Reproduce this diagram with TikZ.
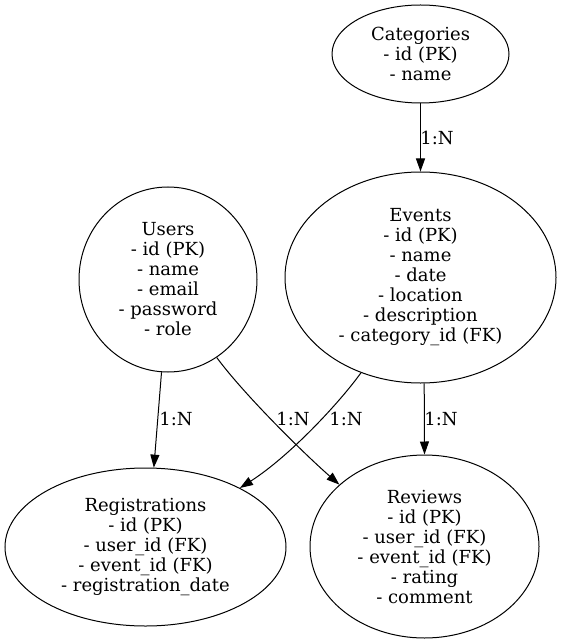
\documentclass[tikz,border=0pt]{standalone}
\usepackage{fontspec}
\setmainfont{DejaVu Serif}
\usetikzlibrary{shapes.geometric,arrows.meta}

\begin{document}
\begin{tikzpicture}[x=1pt,y=-1pt,
  entity/.style={draw, ellipse, line width=1pt, inner sep=0pt, align=center,
    font=\fontsize{18}{20}\selectfont},
  rel/.style={draw, line width=1pt, -{Triangle[length=13pt,width=9pt]}},
  card/.style={inner sep=0pt, font=\fontsize{18}{20}\selectfont}]

\useasboundingbox (0,0) rectangle (561,644);

% entities
\node[entity, minimum width=177pt, minimum height=98pt] (cat) at (420.5,54)
  {Categories\\- id (PK)\\- name};
\node[entity, minimum width=271pt, minimum height=211pt] (events) at (420.5,277.5)
  {Events\\- id (PK)\\- name\\- date\\- location\\- description\\- category\_id (FK)};
\node[entity, minimum width=178pt, minimum height=185pt] (users) at (168,279.5)
  {Users\\- id (PK)\\- name\\- email\\- password\\- role};
\node[entity, minimum width=281pt, minimum height=158pt] (reg) at (145.5,547)
  {Registrations\\- id (PK)\\- user\_id (FK)\\- event\_id (FK)\\- registration\_date};
\node[entity, minimum width=229pt, minimum height=183pt] (reviews) at (424.5,546.5)
  {Reviews\\- id (PK)\\- user\_id (FK)\\- event\_id (FK)\\- rating\\- comment};

% relationships
\draw[rel] (cat.south) -- (events.north);
\draw[rel] (users.-94.3) -- (reg.84.6);
\draw[rel] (users.-58.6) .. controls (242,392) and (300,450) .. (reviews.144.6);
\draw[rel] (events.-122.7) .. controls (340,402) and (290,456) .. (reg.32);
\draw[rel] (events.-88.6) -- (reviews.north);

% cardinality labels
\node[card] (c1) at (437,138) {1:N};
\node[card] (c2) at (176,419) {1:N};
\node[card] (c3) at (293,419) {1:N};
\node[card] (c4) at (346,419) {1:N};
\node[card] (c5) at (441,419) {1:N};
\end{tikzpicture}
\end{document}
